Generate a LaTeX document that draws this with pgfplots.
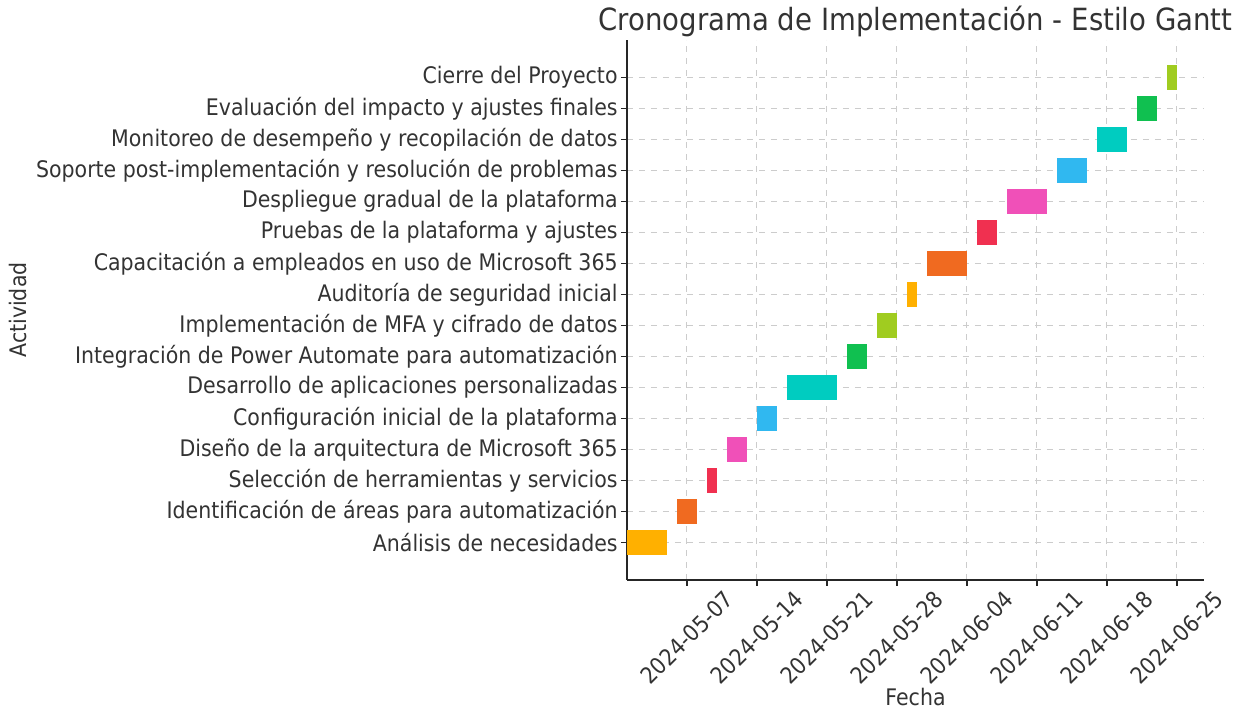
\documentclass[border=0pt]{standalone}
\usepackage{fontspec}
\setmainfont{DejaVu Sans}[FakeStretch=0.9]
\usepackage{graphicx}
\usepackage{pgfplots}
\pgfplotsset{compat=1.18}

\definecolor{cAmber}{HTML}{FFB000}
\definecolor{cOrange}{HTML}{F06A20}
\definecolor{cCrimson}{HTML}{F03050}
\definecolor{cPink}{HTML}{F050B8}
\definecolor{cSky}{HTML}{30B8F0}
\definecolor{cTeal}{HTML}{00CCC0}
\definecolor{cGreen}{HTML}{10C050}
\definecolor{cLime}{HTML}{A0CC20}
\definecolor{txt}{HTML}{333333}

% one bar: row, start day, end day (days after 2024-05-01), colour
\newcommand{\ganttbar}[4]{%
  \addplot[fill=#4, draw=none]
    coordinates {(#2,#1-0.4) (#3,#1-0.4) (#3,#1+0.4) (#2,#1+0.4)} --cycle;}

\begin{document}
\begin{tikzpicture}[font=\fontsize{11.4}{13}\selectfont, text=txt]
\useasboundingbox (-313.5pt,-67.5pt) rectangle (307.5pt,290pt);
\begin{axis}[
  scale only axis,
  width=288.5pt, height=270pt,
  at={(0,0)}, anchor=south west,
  xmin=0, xmax=57.7,
  ymin=-1.2, ymax=16.2,
  axis x line*=bottom, axis y line*=left,
  axis line style={line width=0.9pt, color=black!85},
  tick align=outside,
  major tick length=3pt,
  tick style={color=black!85, line width=0.6pt},
  grid=major,
  grid style={dashed, color=black!20, line width=0.5pt},
  xtick={6,13,20,27,34,41,48,55},
  xticklabels={
    \rotatebox{45}{2024-05-07},\rotatebox{45}{2024-05-14},
    \rotatebox{45}{2024-05-21},\rotatebox{45}{2024-05-28},
    \rotatebox{45}{2024-06-04},\rotatebox{45}{2024-06-11},
    \rotatebox{45}{2024-06-18},\rotatebox{45}{2024-06-25}},
  xticklabel style={anchor=north, inner sep=1.5pt},
  ytick={0,...,15},
  yticklabels={
    Análisis de necesidades,
    Identificación de áreas para automatización,
    Selección de herramientas y servicios,
    Diseño de la arquitectura de Microsoft 365,
    Configuración inicial de la plataforma,
    Desarrollo de aplicaciones personalizadas,
    Integración de Power Automate para automatización,
    Implementación de MFA y cifrado de datos,
    Auditoría de seguridad inicial,
    Capacitación a empleados en uso de Microsoft 365,
    Pruebas de la plataforma y ajustes,
    Despliegue gradual de la plataforma,
    Soporte post-implementación y resolución de problemas,
    Monitoreo de desempeño y recopilación de datos,
    Evaluación del impacto y ajustes finales,
    Cierre del Proyecto},
  yticklabel style={anchor=east, inner sep=1.5pt},
  xlabel={Fecha},
  ylabel={Actividad},
  xlabel style={at={(axis description cs:0.5,-0.233)}, anchor=base},
  ylabel style={at={(axis description cs:-1.055,0.5)}, anchor=center},
]
\ganttbar{0}{0}{4}{cAmber}
\ganttbar{1}{5}{7}{cOrange}
\ganttbar{2}{8}{9}{cCrimson}
\ganttbar{3}{10}{12}{cPink}
\ganttbar{4}{13}{15}{cSky}
\ganttbar{5}{16}{21}{cTeal}
\ganttbar{6}{22}{24}{cGreen}
\ganttbar{7}{25}{27}{cLime}
\ganttbar{8}{28}{29}{cAmber}
\ganttbar{9}{30}{34}{cOrange}
\ganttbar{10}{35}{37}{cCrimson}
\ganttbar{11}{38}{42}{cPink}
\ganttbar{12}{43}{46}{cSky}
\ganttbar{13}{47}{50}{cTeal}
\ganttbar{14}{51}{53}{cGreen}
\ganttbar{15}{54}{55}{cLime}
\end{axis}
\node[anchor=base, font=\fontsize{15.3}{18}\selectfont] at (144.25pt,274.5pt)
  {Cronograma de Implementación - Estilo Gantt};
\end{tikzpicture}
\end{document}
